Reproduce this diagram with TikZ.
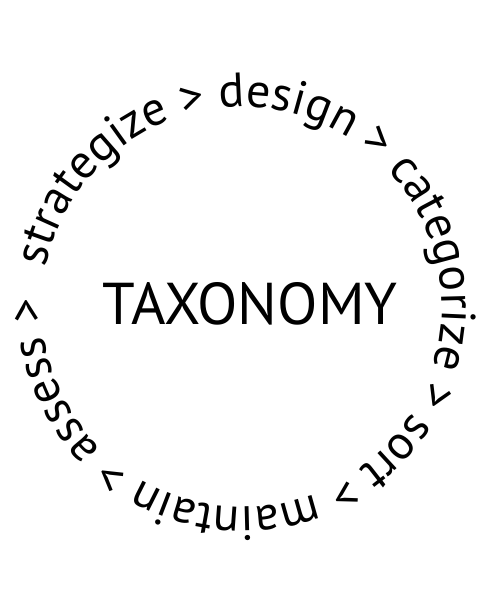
\documentclass[tikz,border=0pt]{standalone}
\usepackage{fontspec}
\setmainfont{PT Sans}
\usetikzlibrary{decorations,decorations.text}

\begin{document}
\begin{tikzpicture}[x=1pt,y=1pt]
\useasboundingbox (0,0) rectangle (500,600);
\coordinate (c) at (242,293);
\node[anchor=base] (title) at (250,275) {\fontsize{59}{59}\selectfont TAXONOMY};
% steps around the ring, clockwise from the left
\path[decorate, decoration={text along path,
  text={|\fontsize{48}{48}\selectfont|strategize > design > categorize > sort > maintain > assess >}}]
  (c) ++(168.5:200) arc[start angle=168.5, end angle=-191.5, radius=200];
\end{tikzpicture}
\end{document}
